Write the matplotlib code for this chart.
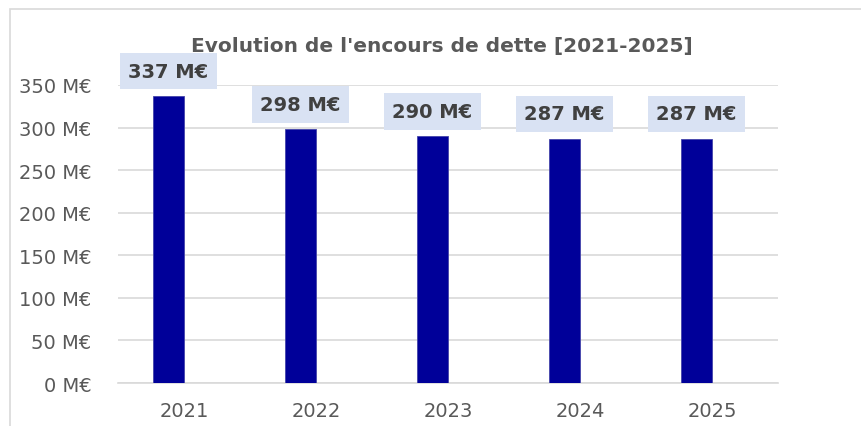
import numpy as np
import matplotlib.pyplot as plt
from matplotlib.patches import Rectangle

# Data
years = ['2021', '2022', '2023', '2024', '2025']
encours = [337, 298, 290, 287, 287]
autre = [0, -1, -1, -1, -1]
y_ticks = [0, 50, 100, 150, 200, 250, 300, 350]

TEXT_GREY = '#595959'
BAR_BLUE = '#000099'
LABEL_BG = '#D9E2F3'

plt.rcParams['font.family'] = ['DejaVu Sans']

fig = plt.figure(figsize=(8.61, 4.27), dpi=100)
ax = fig.add_axes([0.137, 0.1007, 0.7666, 0.698])

# Chart frame
fig.patches.append(Rectangle((10 / 861, -0.1), 1.2, (427 - 10) / 427 + 0.1,
                             transform=fig.transFigure, fill=False,
                             edgecolor='#D9D9D9', linewidth=1.2, zorder=0))

x = np.arange(len(years))
w = 0.235
ax.bar(x - w / 2, encours, width=w, color=BAR_BLUE, edgecolor='#4444aa',
       linewidth=0.6, zorder=3)
ax.bar(x + w / 2, autre, width=w, color='#F4B183', linewidth=0, zorder=3)

# Value labels
for xi, v in zip(x, encours):
    ax.annotate(f'{v} M€', (xi - w / 2, v), xytext=(0, 11), textcoords='offset points',
                ha='center', va='bottom', fontsize=14, fontweight='bold',
                color='#404040', zorder=5,
                bbox=dict(boxstyle='square,pad=0.45', facecolor=LABEL_BG, edgecolor='none'))

ax.set_xlim(-0.5, len(years) - 0.5)
ax.set_ylim(0, 350)
ax.set_yticks(y_ticks)
ax.set_yticklabels([f'{t} M€' for t in y_ticks])
ax.set_xticks(x)
ax.set_xticklabels(years)
ax.tick_params(axis='both', length=0, labelsize=14, colors=TEXT_GREY)
ax.tick_params(axis='y', pad=19)
ax.tick_params(axis='x', pad=13)

ax.grid(axis='y', color='#D9D9D9', linewidth=1.2, zorder=0)
ax.set_axisbelow(True)
for s in ['top', 'right', 'left']:
    ax.spines[s].set_visible(False)
ax.spines['bottom'].set_color('#D9D9D9')
ax.spines['bottom'].set_linewidth(1.2)

fig.text(0.513, 0.892, "Evolution de l'encours de dette [2021-2025]", ha='center', va='center',
         fontsize=14.5, fontweight='bold', color=TEXT_GREY)

fig.savefig('out.png', dpi=100, facecolor='white')
